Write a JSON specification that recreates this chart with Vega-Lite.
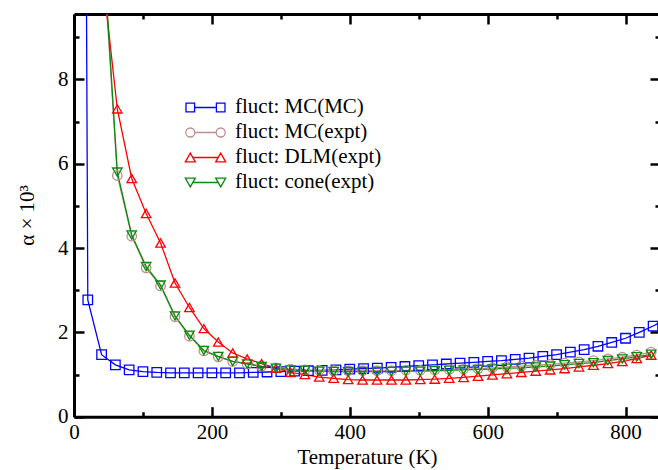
{
  "$schema": "https://vega.github.io/schema/vega-lite/v6.json",
  "width": 586,
  "height": 402.7,
  "autosize": {"type": "none"},
  "padding": {"left": 74, "top": 14, "right": 0, "bottom": 53},
  "background": "white",
  "config": {
    "view": {"stroke": null},
    "font": "Liberation Serif",
    "axis": {
      "grid": false,
      "domainColor": "black",
      "domainWidth": 3,
      "tickColor": "black",
      "tickWidth": 2.5,
      "labelFont": "Liberation Serif",
      "labelFontSize": 21,
      "labelColor": "black",
      "titleFont": "Liberation Serif",
      "titleFontSize": 21,
      "titleFontWeight": "normal",
      "titleColor": "black",
      "labelFlush": false,
      "labelOverlap": false
    }
  },
  "data": {
    "values": [
      {"s": "fluct: MC(MC)", "T": 10, "a": 40},
      {"s": "fluct: MC(MC)", "T": 20, "a": 2.77},
      {"s": "fluct: MC(MC)", "T": 40, "a": 1.47},
      {"s": "fluct: MC(MC)", "T": 60, "a": 1.23},
      {"s": "fluct: MC(MC)", "T": 80, "a": 1.11},
      {"s": "fluct: MC(MC)", "T": 100, "a": 1.07},
      {"s": "fluct: MC(MC)", "T": 120, "a": 1.05},
      {"s": "fluct: MC(MC)", "T": 140, "a": 1.04},
      {"s": "fluct: MC(MC)", "T": 160, "a": 1.04},
      {"s": "fluct: MC(MC)", "T": 180, "a": 1.04},
      {"s": "fluct: MC(MC)", "T": 200, "a": 1.04},
      {"s": "fluct: MC(MC)", "T": 220, "a": 1.04},
      {"s": "fluct: MC(MC)", "T": 240, "a": 1.04},
      {"s": "fluct: MC(MC)", "T": 260, "a": 1.05},
      {"s": "fluct: MC(MC)", "T": 280, "a": 1.06},
      {"s": "fluct: MC(MC)", "T": 300, "a": 1.07},
      {"s": "fluct: MC(MC)", "T": 320, "a": 1.08},
      {"s": "fluct: MC(MC)", "T": 340, "a": 1.09},
      {"s": "fluct: MC(MC)", "T": 360, "a": 1.1},
      {"s": "fluct: MC(MC)", "T": 380, "a": 1.11},
      {"s": "fluct: MC(MC)", "T": 400, "a": 1.13},
      {"s": "fluct: MC(MC)", "T": 420, "a": 1.14},
      {"s": "fluct: MC(MC)", "T": 440, "a": 1.15},
      {"s": "fluct: MC(MC)", "T": 460, "a": 1.17},
      {"s": "fluct: MC(MC)", "T": 480, "a": 1.19},
      {"s": "fluct: MC(MC)", "T": 500, "a": 1.21},
      {"s": "fluct: MC(MC)", "T": 520, "a": 1.23},
      {"s": "fluct: MC(MC)", "T": 540, "a": 1.25},
      {"s": "fluct: MC(MC)", "T": 560, "a": 1.27},
      {"s": "fluct: MC(MC)", "T": 580, "a": 1.29},
      {"s": "fluct: MC(MC)", "T": 600, "a": 1.31},
      {"s": "fluct: MC(MC)", "T": 620, "a": 1.33},
      {"s": "fluct: MC(MC)", "T": 640, "a": 1.36},
      {"s": "fluct: MC(MC)", "T": 660, "a": 1.39},
      {"s": "fluct: MC(MC)", "T": 680, "a": 1.43},
      {"s": "fluct: MC(MC)", "T": 700, "a": 1.47},
      {"s": "fluct: MC(MC)", "T": 720, "a": 1.53},
      {"s": "fluct: MC(MC)", "T": 740, "a": 1.59},
      {"s": "fluct: MC(MC)", "T": 760, "a": 1.67},
      {"s": "fluct: MC(MC)", "T": 780, "a": 1.76},
      {"s": "fluct: MC(MC)", "T": 800, "a": 1.86},
      {"s": "fluct: MC(MC)", "T": 820, "a": 2.0},
      {"s": "fluct: MC(MC)", "T": 840, "a": 2.15},
      {"s": "fluct: MC(MC)", "T": 860, "a": 2.32},

      {"s": "fluct: MC(expt)", "T": 41.86, "a": 11.1},
      {"s": "fluct: MC(expt)", "T": 62.79, "a": 5.72},
      {"s": "fluct: MC(expt)", "T": 83.72, "a": 4.28},
      {"s": "fluct: MC(expt)", "T": 104.65, "a": 3.53},
      {"s": "fluct: MC(expt)", "T": 125.58, "a": 3.1},
      {"s": "fluct: MC(expt)", "T": 146.51, "a": 2.37},
      {"s": "fluct: MC(expt)", "T": 167.44, "a": 1.91},
      {"s": "fluct: MC(expt)", "T": 188.37, "a": 1.56},
      {"s": "fluct: MC(expt)", "T": 209.3, "a": 1.42},
      {"s": "fluct: MC(expt)", "T": 230.23, "a": 1.31},
      {"s": "fluct: MC(expt)", "T": 251.16, "a": 1.25},
      {"s": "fluct: MC(expt)", "T": 272.09, "a": 1.2},
      {"s": "fluct: MC(expt)", "T": 293.02, "a": 1.16},
      {"s": "fluct: MC(expt)", "T": 313.95, "a": 1.13},
      {"s": "fluct: MC(expt)", "T": 334.88, "a": 1.11},
      {"s": "fluct: MC(expt)", "T": 355.81, "a": 1.1},
      {"s": "fluct: MC(expt)", "T": 376.74, "a": 1.09},
      {"s": "fluct: MC(expt)", "T": 397.67, "a": 1.09},
      {"s": "fluct: MC(expt)", "T": 418.6, "a": 1.09},
      {"s": "fluct: MC(expt)", "T": 439.53, "a": 1.09},
      {"s": "fluct: MC(expt)", "T": 460.46, "a": 1.09},
      {"s": "fluct: MC(expt)", "T": 481.39, "a": 1.1},
      {"s": "fluct: MC(expt)", "T": 502.32, "a": 1.1},
      {"s": "fluct: MC(expt)", "T": 523.25, "a": 1.11},
      {"s": "fluct: MC(expt)", "T": 544.18, "a": 1.12},
      {"s": "fluct: MC(expt)", "T": 565.11, "a": 1.13},
      {"s": "fluct: MC(expt)", "T": 586.04, "a": 1.14},
      {"s": "fluct: MC(expt)", "T": 606.97, "a": 1.16},
      {"s": "fluct: MC(expt)", "T": 627.9, "a": 1.18},
      {"s": "fluct: MC(expt)", "T": 648.83, "a": 1.2},
      {"s": "fluct: MC(expt)", "T": 669.76, "a": 1.22},
      {"s": "fluct: MC(expt)", "T": 690.69, "a": 1.24},
      {"s": "fluct: MC(expt)", "T": 711.62, "a": 1.27},
      {"s": "fluct: MC(expt)", "T": 732.55, "a": 1.3},
      {"s": "fluct: MC(expt)", "T": 753.48, "a": 1.33},
      {"s": "fluct: MC(expt)", "T": 774.41, "a": 1.37},
      {"s": "fluct: MC(expt)", "T": 795.34, "a": 1.41},
      {"s": "fluct: MC(expt)", "T": 816.27, "a": 1.46},
      {"s": "fluct: MC(expt)", "T": 837.2, "a": 1.53},

      {"s": "fluct: DLM(expt)", "T": 41.86, "a": 10.4},
      {"s": "fluct: DLM(expt)", "T": 62.79, "a": 7.3},
      {"s": "fluct: DLM(expt)", "T": 83.72, "a": 5.65},
      {"s": "fluct: DLM(expt)", "T": 104.65, "a": 4.82},
      {"s": "fluct: DLM(expt)", "T": 125.58, "a": 4.12},
      {"s": "fluct: DLM(expt)", "T": 146.51, "a": 3.17},
      {"s": "fluct: DLM(expt)", "T": 167.44, "a": 2.59},
      {"s": "fluct: DLM(expt)", "T": 188.37, "a": 2.09},
      {"s": "fluct: DLM(expt)", "T": 209.3, "a": 1.77},
      {"s": "fluct: DLM(expt)", "T": 230.23, "a": 1.51},
      {"s": "fluct: DLM(expt)", "T": 251.16, "a": 1.37},
      {"s": "fluct: DLM(expt)", "T": 272.09, "a": 1.26},
      {"s": "fluct: DLM(expt)", "T": 293.02, "a": 1.15},
      {"s": "fluct: DLM(expt)", "T": 313.95, "a": 1.05},
      {"s": "fluct: DLM(expt)", "T": 334.88, "a": 1.0},
      {"s": "fluct: DLM(expt)", "T": 355.81, "a": 0.94},
      {"s": "fluct: DLM(expt)", "T": 376.74, "a": 0.91},
      {"s": "fluct: DLM(expt)", "T": 397.67, "a": 0.88},
      {"s": "fluct: DLM(expt)", "T": 418.6, "a": 0.87},
      {"s": "fluct: DLM(expt)", "T": 439.53, "a": 0.87},
      {"s": "fluct: DLM(expt)", "T": 460.46, "a": 0.87},
      {"s": "fluct: DLM(expt)", "T": 481.39, "a": 0.87},
      {"s": "fluct: DLM(expt)", "T": 502.32, "a": 0.88},
      {"s": "fluct: DLM(expt)", "T": 523.25, "a": 0.89},
      {"s": "fluct: DLM(expt)", "T": 544.18, "a": 0.91},
      {"s": "fluct: DLM(expt)", "T": 565.11, "a": 0.93},
      {"s": "fluct: DLM(expt)", "T": 586.04, "a": 0.96},
      {"s": "fluct: DLM(expt)", "T": 606.97, "a": 0.99},
      {"s": "fluct: DLM(expt)", "T": 627.9, "a": 1.02},
      {"s": "fluct: DLM(expt)", "T": 648.83, "a": 1.05},
      {"s": "fluct: DLM(expt)", "T": 669.76, "a": 1.08},
      {"s": "fluct: DLM(expt)", "T": 690.69, "a": 1.11},
      {"s": "fluct: DLM(expt)", "T": 711.62, "a": 1.14},
      {"s": "fluct: DLM(expt)", "T": 732.55, "a": 1.18},
      {"s": "fluct: DLM(expt)", "T": 753.48, "a": 1.22},
      {"s": "fluct: DLM(expt)", "T": 774.41, "a": 1.26},
      {"s": "fluct: DLM(expt)", "T": 795.34, "a": 1.31},
      {"s": "fluct: DLM(expt)", "T": 816.27, "a": 1.38},
      {"s": "fluct: DLM(expt)", "T": 837.2, "a": 1.46},

      {"s": "fluct: cone(expt)", "T": 41.86, "a": 11.3},
      {"s": "fluct: cone(expt)", "T": 62.79, "a": 5.8},
      {"s": "fluct: cone(expt)", "T": 83.72, "a": 4.31},
      {"s": "fluct: cone(expt)", "T": 104.65, "a": 3.56},
      {"s": "fluct: cone(expt)", "T": 125.58, "a": 3.12},
      {"s": "fluct: cone(expt)", "T": 146.51, "a": 2.39},
      {"s": "fluct: cone(expt)", "T": 167.44, "a": 1.93},
      {"s": "fluct: cone(expt)", "T": 188.37, "a": 1.57},
      {"s": "fluct: cone(expt)", "T": 209.3, "a": 1.43},
      {"s": "fluct: cone(expt)", "T": 230.23, "a": 1.31},
      {"s": "fluct: cone(expt)", "T": 251.16, "a": 1.25},
      {"s": "fluct: cone(expt)", "T": 272.09, "a": 1.19},
      {"s": "fluct: cone(expt)", "T": 293.02, "a": 1.15},
      {"s": "fluct: cone(expt)", "T": 313.95, "a": 1.11},
      {"s": "fluct: cone(expt)", "T": 334.88, "a": 1.1},
      {"s": "fluct: cone(expt)", "T": 355.81, "a": 1.08},
      {"s": "fluct: cone(expt)", "T": 376.74, "a": 1.07},
      {"s": "fluct: cone(expt)", "T": 397.67, "a": 1.07},
      {"s": "fluct: cone(expt)", "T": 418.6, "a": 1.07},
      {"s": "fluct: cone(expt)", "T": 439.53, "a": 1.07},
      {"s": "fluct: cone(expt)", "T": 460.46, "a": 1.07},
      {"s": "fluct: cone(expt)", "T": 481.39, "a": 1.08},
      {"s": "fluct: cone(expt)", "T": 502.32, "a": 1.08},
      {"s": "fluct: cone(expt)", "T": 523.25, "a": 1.09},
      {"s": "fluct: cone(expt)", "T": 544.18, "a": 1.1},
      {"s": "fluct: cone(expt)", "T": 565.11, "a": 1.11},
      {"s": "fluct: cone(expt)", "T": 586.04, "a": 1.12},
      {"s": "fluct: cone(expt)", "T": 606.97, "a": 1.13},
      {"s": "fluct: cone(expt)", "T": 627.9, "a": 1.15},
      {"s": "fluct: cone(expt)", "T": 648.83, "a": 1.16},
      {"s": "fluct: cone(expt)", "T": 669.76, "a": 1.18},
      {"s": "fluct: cone(expt)", "T": 690.69, "a": 1.2},
      {"s": "fluct: cone(expt)", "T": 711.62, "a": 1.23},
      {"s": "fluct: cone(expt)", "T": 732.55, "a": 1.26},
      {"s": "fluct: cone(expt)", "T": 753.48, "a": 1.28},
      {"s": "fluct: cone(expt)", "T": 774.41, "a": 1.33},
      {"s": "fluct: cone(expt)", "T": 795.34, "a": 1.37},
      {"s": "fluct: cone(expt)", "T": 816.27, "a": 1.42},
      {"s": "fluct: cone(expt)", "T": 837.2, "a": 1.48}
    ]
  },
  "layer": [
    {
      "mark": {"type": "line", "strokeWidth": 1.3, "clip": true},
      "encoding": {
        "x": {
          "field": "T", "type": "quantitative",
          "scale": {"domain": [0, 850], "nice": false, "zero": false},
          "axis": {
            "orient": "bottom",
            "title": "Temperature (K)",
            "values": [0, 100, 200, 300, 400, 500, 600, 700, 800],
            "labelExpr": "datum.value % 200 === 0 ? datum.label : ''",
            "tickSize": {"condition": {"test": "datum.value % 200 === 0", "value": -10}, "value": -5},
            "labelPadding": 15,
            "titleBaseline": "alphabetic",
            "titleY": 46.5
          }
        },
        "y": {
          "field": "a", "type": "quantitative",
          "scale": {"domain": [0, 9.55], "nice": false, "zero": false},
          "axis": {
            "orient": "left",
            "title": "α × 10³",
            "values": [0, 1, 2, 3, 4, 5, 6, 7, 8, 9],
            "labelExpr": "datum.value % 2 === 0 ? datum.label : ''",
            "tickSize": {"condition": {"test": "datum.value % 2 === 0", "value": -10}, "value": -5},
            "labelPadding": 16,
            "titleBaseline": "alphabetic",
            "titleX": -41,
            "titleY": 201
          }
        },
        "color": {
          "field": "s", "type": "nominal",
          "scale": {
            "domain": ["fluct: MC(MC)", "fluct: MC(expt)", "fluct: DLM(expt)", "fluct: cone(expt)"],
            "range": ["#0000ff", "#bc8f8f", "#ff0000", "#0a8a0a"]
          },
          "legend": {
            "title": null,
            "orient": "none",
            "legendX": 121,
            "legendY": 83,
            "padding": 0,
            "symbolSize": 100,
            "symbolStrokeWidth": 1.3,
            "labelFont": "Liberation Serif",
            "labelFontSize": 21,
            "labelColor": "black",
            "labelOffset": 19,
            "rowPadding": 3,
            "labelLimit": 300,
            "encode": {
              "symbols": {
                "update": {
                  "shape": {"signal": "datum.value === 'fluct: MC(MC)' ? 'M-3.9,-0.86H-2.18V0.86H-3.9Z M-2.18,0H2.18 M2.18,-0.86H3.9V0.86H2.18Z' : datum.value === 'fluct: MC(expt)' ? 'M-2.14,0A0.9,0.9 0 1,1 -3.94,0A0.9,0.9 0 1,1 -2.14,0Z M-2.14,0H2.14 M3.94,0A0.9,0.9 0 1,1 2.14,0A0.9,0.9 0 1,1 3.94,0Z' : datum.value === 'fluct: DLM(expt)' ? 'M-3.04,-0.87L-4.04,0.87H-2.04Z M-2.54,0H2.54 M3.04,-0.87L2.04,0.87H4.04Z' : 'M-3.04,0.87L-4.04,-0.87H-2.04Z M-2.54,0H2.54 M3.04,0.87L2.04,-0.87H4.04Z'"},
                  "fill": {"value": "transparent"},
                  "strokeWidth": {"value": 1.3}
                }
              }
            }
          }
        }
      }
    },
    {
      "mark": {"type": "point", "filled": false, "size": 90, "strokeWidth": 1.3, "opacity": 1, "clip": true},
      "encoding": {
        "x": {"field": "T", "type": "quantitative", "axis": null},
        "y": {"field": "a", "type": "quantitative", "axis": null},
        "color": {"field": "s", "type": "nominal", "legend": null},
        "shape": {
          "field": "s", "type": "nominal",
          "scale": {
            "domain": ["fluct: MC(MC)", "fluct: MC(expt)", "fluct: DLM(expt)", "fluct: cone(expt)"],
            "range": ["square", "circle", "triangle-up", "triangle-down"]
          },
          "legend": null
        }
      }
    },
    {
      "mark": {"type": "point", "opacity": 0},
      "encoding": {
        "x": {
          "field": "T", "type": "quantitative",
          "axis": {
            "orient": "top", "title": null, "labels": false,
            "values": [0, 100, 200, 300, 400, 500, 600, 700, 800],
            "tickSize": {"condition": {"test": "datum.value % 200 === 0", "value": -10}, "value": -5}
          }
        },
        "y": {
          "field": "a", "type": "quantitative",
          "axis": {
            "orient": "right", "title": null, "labels": false,
            "values": [0, 1, 2, 3, 4, 5, 6, 7, 8, 9],
            "tickSize": {"condition": {"test": "datum.value % 2 === 0", "value": -10}, "value": -5}
          }
        }
      }
    }
  ],
  "resolve": {
    "axis": {"x": "independent", "y": "independent"},
    "legend": {"color": "independent", "shape": "independent"}
  }
}
